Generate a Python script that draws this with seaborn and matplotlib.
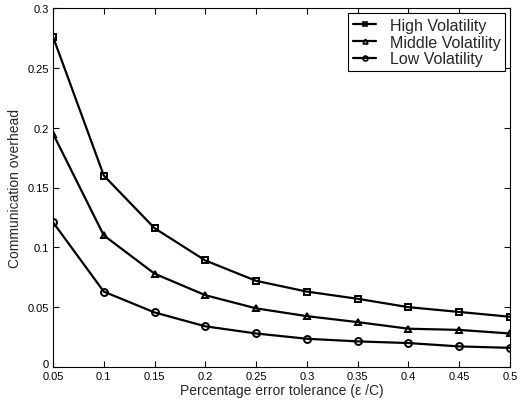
import matplotlib
matplotlib.use("Agg")
import matplotlib.pyplot as plt
import seaborn as sns
import pandas as pd

tolerance = [0.05, 0.1, 0.15, 0.2, 0.25, 0.3, 0.35, 0.4, 0.45, 0.5]
high = [0.276, 0.160, 0.116, 0.089, 0.072, 0.063, 0.057, 0.050, 0.046, 0.042]
middle = [0.195, 0.110, 0.078, 0.060, 0.049, 0.0425, 0.0375, 0.032, 0.031, 0.028]
low = [0.121, 0.063, 0.0456, 0.034, 0.028, 0.0236, 0.0214, 0.020, 0.0172, 0.016]
series_names = ["High Volatility", "Middle Volatility", "Low Volatility"]
x_ticks = [0.05, 0.1, 0.15, 0.2, 0.25, 0.3, 0.35, 0.4, 0.45, 0.5]
x_tick_labels = ["0.05", "0.1", "0.15", "0.2", "0.25", "0.3", "0.35", "0.4", "0.45", "0.5"]
y_ticks = [0, 0.05, 0.1, 0.15, 0.2, 0.25, 0.3]
y_tick_labels = ["0", "0.05", "0.1", "0.15", "0.2", "0.25", "0.3"]

df = pd.DataFrame({
    "x": tolerance * 3,
    "y": high + middle + low,
    "series": [series_names[0]] * 10 + [series_names[1]] * 10 + [series_names[2]] * 10,
})

sns.set_style("ticks")
plt.rcParams["font.family"] = ["Liberation Sans", "DejaVu Sans"]

fig = plt.figure(figsize=(5.24, 4.02), dpi=100)
ax = fig.add_axes([53 / 524, 1 - 368 / 402, 457 / 524, 359 / 402])

markers = {series_names[0]: "s", series_names[1]: "^", series_names[2]: "o"}
for name in series_names:
    sub = df[df["series"] == name]
    sns.lineplot(data=sub, x="x", y="y", ax=ax, color="black", linewidth=1.6,
                 marker=markers[name], markersize=5, markerfacecolor="none",
                 markeredgecolor="black", markeredgewidth=1.4, label=name)

ax.set_xlim(0.05, 0.5)
ax.set_ylim(0, 0.3)
ax.set_xticks(x_ticks)
ax.set_xticklabels(x_tick_labels)
ax.set_yticks(y_ticks)
ax.set_yticklabels(y_tick_labels)
ax.tick_params(direction="in", top=True, right=True, labelsize=8, length=4, width=0.8, pad=3, colors="black")
for s in ax.spines.values():
    s.set_linewidth(0.8)
    s.set_color("black")
ax.get_yticklabels()[0].set_verticalalignment("baseline")
ax.set_xlabel("Percentage error tolerance (\u03b5 /C)", fontsize=10, labelpad=1)
ax.set_ylabel("Communication overhead", fontsize=10, labelpad=4)

leg = ax.legend(loc="upper right", fontsize=11.5, frameon=True, fancybox=False,
                edgecolor="black", framealpha=1, handlelength=1.45, borderpad=0.3,
                labelspacing=0.12, borderaxespad=0.3, handletextpad=0.85)
leg.get_frame().set_linewidth(0.8)
for h in leg.get_lines():
    h.set_markersize(3.5)
    h.set_markeredgewidth(1.2)

fig.savefig("out.png", dpi=100)
